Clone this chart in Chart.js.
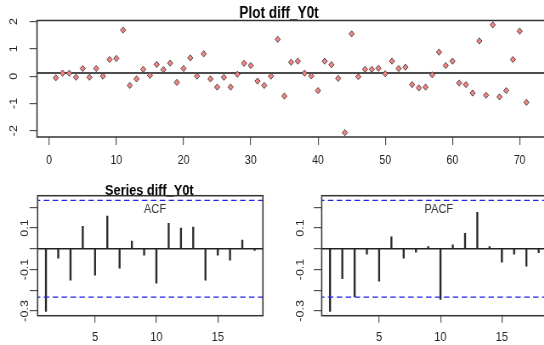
<!DOCTYPE html>
<html>
<head>
<meta charset="utf-8">
<script src="https://cdn.jsdelivr.net/npm/chart.js@4.4.1/dist/chart.umd.min.js"></script>
<style>
  html, body { margin: 0; padding: 0; background: #fff; width: 544px; height: 345px; overflow: hidden; }
  .panel { position: absolute; transform-origin: 0 0; transform: scaleX(0.85); }
</style>
</head>
<body>
<div class="panel" id="pTop"><canvas id="cTop"></canvas></div>
<div class="panel" id="pAcf"><canvas id="cAcf"></canvas></div>
<div class="panel" id="pPacf"><canvas id="cPacf"></canvas></div>
<script>
// the picture is a bit squashed sideways, so each panel is drawn wider and scaled
const SX = 0.85;

/* data */
const diffY0t = [
  -0.06, 0.11, 0.11, -0.04, 0.28, -0.04, 0.28, 0.0, 0.61, 0.65,
  1.69, -0.34, -0.1, 0.25, 0.03, 0.43, 0.24, 0.48, -0.23, 0.28,
  0.67, 0.0, 0.82, -0.1, -0.4, -0.04, -0.4, 0.07, 0.47, 0.39,
  -0.18, -0.34, 0.0, 1.35, -0.73, 0.51, 0.55, 0.11, 0.01, -0.53,
  0.55, 0.42, -0.08, -2.07, 1.55, -0.02, 0.25, 0.25, 0.29, 0.09,
  0.55, 0.28, 0.33, -0.31, -0.43, -0.4, 0.05, 0.88, 0.39, 0.55,
  -0.25, -0.31, -0.62, 1.29, -0.7, 1.88, -0.76, -0.53, 0.61, 1.65, -0.96
];
const levelLine = 0.12;
const topXTicks = [0, 10, 20, 30, 40, 50, 60, 70];
const topYTicks = [-2, -1, 0, 1, 2];

const lags = [1, 2, 3, 4, 5, 6, 7, 8, 9, 10, 11, 12, 13, 14, 15, 16, 17, 18];
const acfVals = [-0.302, -0.045, -0.152, 0.108, -0.127, 0.158, -0.094, 0.037, -0.031,
  -0.166, 0.123, 0.100, 0.105, -0.152, -0.031, -0.055, 0.042, -0.008];
const pacfVals = [-0.302, -0.144, -0.231, -0.026, -0.156, 0.058, -0.045, -0.016, 0.010,
  -0.245, 0.019, 0.074, 0.176, 0.010, -0.065, -0.026, -0.084, -0.019];
const confLimit = 0.233;
const corrYTicks = [-0.3, -0.2, -0.1, 0, 0.1, 0.2];
const corrYLabels = ["-0.3", "", "-0.1", "", "0.1", ""];
const corrXTicks = [5, 10, 15];

Chart.defaults.font.family = "'Liberation Sans', Arial, sans-serif";
Chart.defaults.animation = false;

function setupPanel(id, left, top, width, height) {
  const box = document.getElementById(id);
  box.style.left = left + "px";
  box.style.top = top + "px";
  const cv = box.querySelector("canvas");
  cv.width = Math.round(width / SX);
  cv.height = height;
  return cv;
}

// box round the plot region + the free text labels
function framePlugin(texts) {
  return {
    id: "frame",
    afterDatasetsDraw(chart) {
      const { ctx, chartArea: a } = chart;
      ctx.save();
      ctx.strokeStyle = "#333";
      ctx.lineWidth = 1.5;
      ctx.strokeRect(a.left, a.top, a.right - a.left, a.bottom - a.top);
      ctx.textAlign = "center";
      ctx.textBaseline = "alphabetic";
      texts.forEach(t => {
        ctx.font = t.font;
        ctx.fillStyle = t.color;
        ctx.fillText(t.text, t.x, t.y);
      });
      ctx.restore();
    }
  };
}

function tickGrid(len) {
  return { display: true, drawOnChartArea: false, drawTicks: true, tickLength: len, color: "#555", lineWidth: 1.2 };
}

/* ---- top: the series ---- */
const cTop = setupPanel("pTop", 0, 0, 560, 175);
new Chart(cTop, {
  type: "scatter",
  data: {
    datasets: [
      {
        data: diffY0t.map((v, i) => ({ x: i + 1, y: v })),
        pointStyle: "rectRot",
        pointRadius: 3.1,
        backgroundColor: "#f58383",
        borderColor: "#3a3a3a",
        borderWidth: 0.9
      },
      {
        type: "line",
        data: [{ x: -10, y: levelLine }, { x: 90, y: levelLine }],
        borderColor: "#111",
        borderWidth: 1.5,
        pointRadius: 0
      }
    ]
  },
  options: {
    responsive: false,
    layout: { padding: { top: 18, right: cTop.width - 545.2 / SX, left: 0, bottom: 0 } },
    plugins: { legend: { display: false }, tooltip: { enabled: false } },
    scales: {
      x: {
        type: "linear", min: -1.8, max: 73.8,
        afterBuildTicks: s => { s.ticks = topXTicks.map(v => ({ value: v })); },
        afterFit: s => { s.height = 38; },
        grid: tickGrid(8),
        border: { display: false },
        ticks: { autoSkip: false, maxRotation: 0, color: "#222", font: { size: 12.5 }, padding: 7.8 }
      },
      y: {
        min: -2.23, max: 2.04,
        afterBuildTicks: s => { s.ticks = topYTicks.map(v => ({ value: v })); },
        afterFit: s => { s.width = 37 / SX; },
        grid: tickGrid(8.8),
        border: { display: false },
        ticks: { autoSkip: false, minRotation: 90, maxRotation: 90, crossAlign: "center", color: "#222", font: { size: 12.5 }, padding: 13 }
      }
    }
  },
  plugins: [framePlugin([
    { text: "Plot diff_Y0t", font: "bold 16px 'Liberation Sans', Arial", color: "#000", x: 279 / SX, y: 18 }
  ])]
});

/* ---- bottom: ACF and PACF ---- */
function corrChart(canvas, vals, areaLeft, yLabelPad, texts) {
  const w = canvas.width;
  return new Chart(canvas, {
    type: "bar",
    data: {
      datasets: [
        {
          type: "line",
          data: [{ x: -5, y: 0 }, { x: 30, y: 0 }],
          borderColor: "#222", borderWidth: 1.5, pointRadius: 0
        },
        {
          type: "line",
          data: [{ x: -5, y: confLimit }, { x: 30, y: confLimit }],
          borderColor: "#2424e8", borderWidth: 1.2, borderDash: [6.5, 4], pointRadius: 0
        },
        {
          type: "line",
          data: [{ x: -5, y: -confLimit }, { x: 30, y: -confLimit }],
          borderColor: "#2424e8", borderWidth: 1.2, borderDash: [6.5, 4], pointRadius: 0
        },
        {
          type: "bar",
          data: lags.map((l, i) => ({ x: l, y: vals[i] })),
          backgroundColor: "#2a2a2a",
          borderWidth: 0,
          barThickness: 1.7
        }
      ]
    },
    options: {
      responsive: false,
      layout: { padding: { top: 20.7, right: w - (areaLeft + 225.3) / SX, left: 0, bottom: 0 } },
      plugins: { legend: { display: false }, tooltip: { enabled: false } },
      scales: {
        x: {
          type: "linear", min: 0.32, max: 18.68, offset: false,
          afterBuildTicks: s => { s.ticks = corrXTicks.map(v => ({ value: v })); },
          afterFit: s => { s.height = 29.3; },
          grid: Object.assign(tickGrid(7), { offset: false }),
          border: { display: false },
          ticks: { autoSkip: false, maxRotation: 0, color: "#222", font: { size: 13 }, padding: 6.5 }
        },
        y: {
          min: -0.323, max: 0.256,
          afterBuildTicks: s => { s.ticks = corrYTicks.map(v => ({ value: v })); },
          afterFit: s => { s.width = areaLeft / SX; },
          grid: tickGrid(9.4),
          border: { display: false },
          ticks: {
            autoSkip: false, minRotation: 90, maxRotation: 90, crossAlign: "center",
            color: "#222", font: { size: 12.5 }, padding: yLabelPad,
            callback: (v, i) => corrYLabels[i]
          }
        }
      }
    },
    plugins: [framePlugin(texts)]
  });
}

const cAcf = setupPanel("pAcf", 0, 175, 290, 170);
corrChart(cAcf, acfVals, 37.6, -5, [
  { text: "Series diff_Y0t", font: "bold 15px 'Liberation Sans', Arial", color: "#000", x: 149.3 / SX, y: 20 },
  { text: "ACF", font: "13px 'Liberation Sans', Arial", color: "#333", x: 155 / SX, y: 38 }
]);

const cPacf = setupPanel("pPacf", 284, 175, 276, 170);
corrChart(cPacf, pacfVals, 37.7, 4.6, [
  { text: "PACF", font: "13px 'Liberation Sans', Arial", color: "#333", x: (438.8 - 284) / SX, y: 38 }
]);
</script>
</body>
</html>
